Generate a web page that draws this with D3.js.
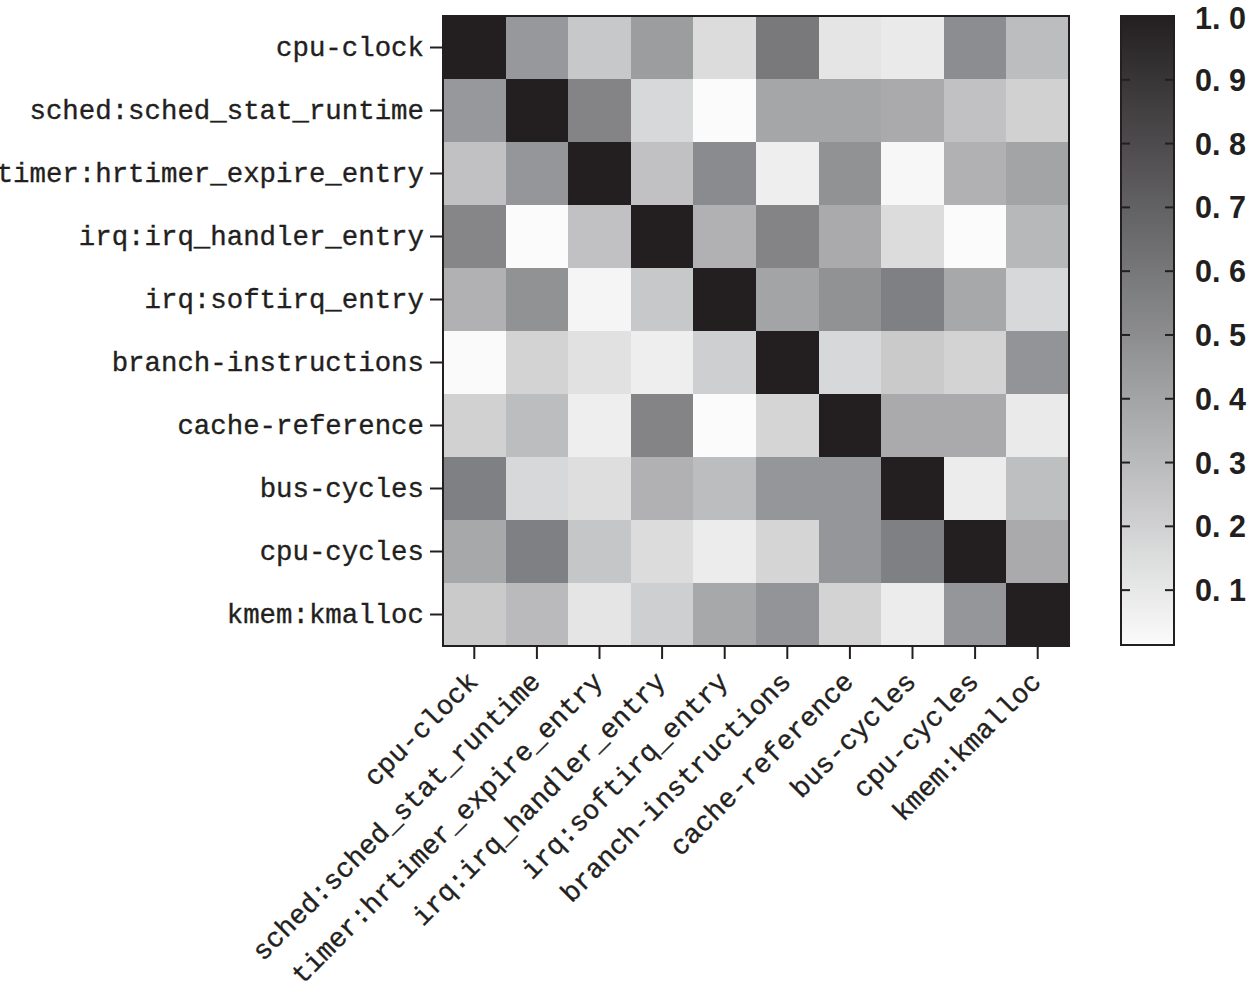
<!DOCTYPE html>
<html>
<head>
<meta charset="utf-8">
<script src="https://cdn.jsdelivr.net/npm/d3@7/dist/d3.min.js"></script>
<style>
  body { margin: 0; background: #fff; }
</style>
</head>
<body>
<div id="chart-container"></div>
<script>
// perf events, same order on both axes
const events = [
  "cpu-clock",
  "sched:sched_stat_runtime",
  "timer:hrtimer_expire_entry",
  "irq:irq_handler_entry",
  "irq:softirq_entry",
  "branch-instructions",
  "cache-reference",
  "bus-cycles",
  "cpu-cycles",
  "kmem:kmalloc",
];

// correlation values, one row per event
const corrRows = [
  [1.0, 0.45, 0.24, 0.43, 0.15, 0.59, 0.11, 0.09, 0.5, 0.29],
  [0.45, 1.0, 0.54, 0.17, 0.01, 0.39, 0.39, 0.37, 0.27, 0.2],
  [0.27, 0.46, 1.0, 0.27, 0.51, 0.07, 0.48, 0.03, 0.34, 0.4],
  [0.53, 0.0, 0.27, 1.0, 0.34, 0.54, 0.37, 0.15, 0.01, 0.31],
  [0.34, 0.48, 0.04, 0.24, 1.0, 0.4, 0.48, 0.56, 0.38, 0.17],
  [0.02, 0.19, 0.13, 0.07, 0.21, 1.0, 0.17, 0.23, 0.19, 0.47],
  [0.2, 0.29, 0.07, 0.54, 0.01, 0.18, 1.0, 0.37, 0.37, 0.09],
  [0.56, 0.17, 0.14, 0.34, 0.29, 0.46, 0.46, 1.0, 0.08, 0.28],
  [0.38, 0.56, 0.25, 0.15, 0.08, 0.18, 0.46, 0.56, 1.0, 0.37],
  [0.23, 0.3, 0.11, 0.21, 0.38, 0.47, 0.19, 0.08, 0.46, 1.0],
];

const colorbarTicks = [0.1, 0.2, 0.3, 0.4, 0.5, 0.6, 0.7, 0.8, 0.9, 1.0];
const colorbarDomain = [0.014, 1.0];

const width = 1248;
const height = 981;
const plot = { left: 443, top: 16, right: 1069, bottom: 646 };
const bar = { left: 1121, right: 1174, top: 16, bottom: 645 };
const ink = "#231f20";
const labelFont = "'Liberation Mono', monospace";

const svg = d3
  .select("#chart-container")
  .append("svg")
  .attr("width", width)
  .attr("height", height);

const xScale = d3.scaleBand().domain(events).range([plot.left, plot.right]);
const yScale = d3.scaleBand().domain(events).range([plot.top, plot.bottom]);

const color = d3
  .scaleLinear()
  .domain([colorbarDomain[0], 0.5, 1.0])
  .range(["#fbfbfb", "#8c8d90", ink])
  .clamp(true);

const cells = [];
corrRows.forEach((row, i) => {
  row.forEach((v, j) => {
    cells.push({ row: events[i], col: events[j], value: v });
  });
});

svg
  .append("g")
  .selectAll("rect")
  .data(cells)
  .enter()
  .append("rect")
  .attr("x", (d) => xScale(d.col))
  .attr("y", (d) => yScale(d.row))
  .attr("width", xScale.bandwidth() + 0.5)
  .attr("height", yScale.bandwidth() + 0.5)
  .attr("fill", (d) => color(d.value))
  .attr("shape-rendering", "crispEdges");

svg
  .append("rect")
  .attr("x", plot.left)
  .attr("y", plot.top)
  .attr("width", plot.right - plot.left)
  .attr("height", plot.bottom - plot.top)
  .attr("fill", "none")
  .attr("stroke", ink)
  .attr("stroke-width", 2);

// y axis
const yAxis = svg
  .append("g")
  .attr("transform", `translate(${plot.left - 1},0)`)
  .call(d3.axisLeft(yScale).tickSize(12).tickPadding(6));
yAxis.select(".domain").remove();
yAxis.selectAll(".tick line").attr("stroke", ink).attr("stroke-width", 2);
yAxis
  .selectAll(".tick text")
  .attr("fill", ink)
  .attr("stroke", ink)
  .attr("stroke-width", 0.35)
  .style("font-family", labelFont)
  .style("font-size", "27.4px");

// x axis, labels turned 45 degrees
const xAxis = svg
  .append("g")
  .attr("transform", `translate(0,${plot.bottom + 1})`)
  .call(d3.axisBottom(xScale).tickSize(12).tickFormat(""));
xAxis.select(".domain").remove();
xAxis.selectAll(".tick line").attr("stroke", ink).attr("stroke-width", 2);

svg
  .append("g")
  .selectAll("text")
  .data(events)
  .enter()
  .append("text")
  .attr(
    "transform",
    (d) =>
      `translate(${xScale(d) + xScale.bandwidth() / 2 + 5},${plot.bottom + 37}) rotate(-45)`,
  )
  .attr("text-anchor", "end")
  .attr("fill", ink)
  .attr("stroke", ink)
  .attr("stroke-width", 0.35)
  .style("font-family", labelFont)
  .style("font-size", "27.4px")
  .text((d) => d);

// colour bar
const barScale = d3
  .scaleLinear()
  .domain(colorbarDomain)
  .range([bar.bottom, bar.top]);

const grad = svg
  .append("defs")
  .append("linearGradient")
  .attr("id", "cbar")
  .attr("x1", 0)
  .attr("y1", 1)
  .attr("x2", 0)
  .attr("y2", 0);

d3.range(0, 1.0001, 0.05).forEach((t) => {
  const v = colorbarDomain[0] + t * (colorbarDomain[1] - colorbarDomain[0]);
  grad
    .append("stop")
    .attr("offset", t)
    .attr("stop-color", color(v));
});

svg
  .append("rect")
  .attr("x", bar.left)
  .attr("y", bar.top)
  .attr("width", bar.right - bar.left)
  .attr("height", bar.bottom - bar.top)
  .attr("fill", "url(#cbar)")
  .attr("stroke", ink)
  .attr("stroke-width", 2);

const barTicks = svg
  .append("g")
  .selectAll("g")
  .data(colorbarTicks)
  .enter()
  .append("g")
  .attr("transform", (d) => `translate(0,${barScale(d)})`);

barTicks
  .filter((d) => d < 1)
  .append("line")
  .attr("x1", bar.left)
  .attr("x2", bar.left + 9)
  .attr("stroke", ink)
  .attr("stroke-width", 2);

barTicks
  .filter((d) => d < 1)
  .append("line")
  .attr("x1", bar.right - 9)
  .attr("x2", bar.right)
  .attr("stroke", ink)
  .attr("stroke-width", 2);

barTicks
  .append("text")
  .attr("x", bar.right + 21)
  .attr("dy", (d) => (d === 1 ? "0.42em" : "0.36em"))
  .attr("fill", ink)
  .style("font-family", "'Liberation Sans', Arial, sans-serif")
  .style("font-weight", "bold")
  .style("font-size", "30.5px")
  .text((d) => d3.format(".1f")(d).replace(".", ". "));
</script>
</body>
</html>
